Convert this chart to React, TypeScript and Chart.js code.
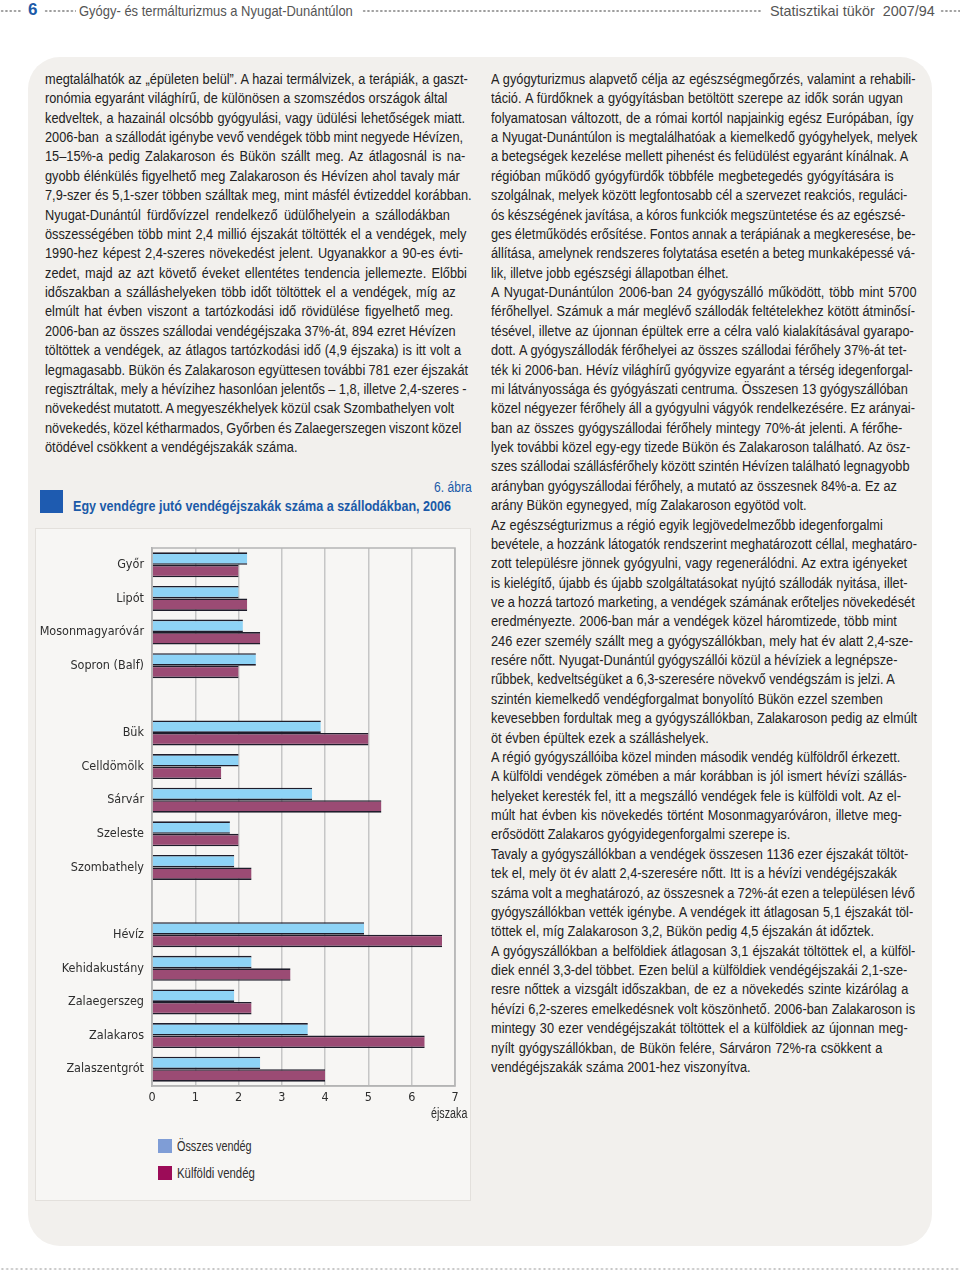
import React, { useEffect, useLayoutEffect, useRef } from 'react';
import { Chart, registerables } from 'chart.js';

Chart.register(...registerables);

// ---------- chart data ----------
const categories = [
  'Győr', 'Lipót', 'Mosonmagyaróvár', 'Sopron (Balf)', '',
  'Bük', 'Celldömölk', 'Sárvár', 'Szeleste', 'Szombathely', '',
  'Hévíz', 'Kehidakustány', 'Zalaegerszeg', 'Zalakaros', 'Zalaszentgrót',
];
const osszesVendeg = [2.2, 2.0, 2.1, 2.4, null, 3.9, 2.0, 3.7, 1.8, 1.9, null, 4.9, 2.3, 1.9, 3.6, 2.5];
const kulfoldiVendeg = [2.0, 2.2, 2.5, 2.0, null, 5.0, 1.6, 5.3, 2.0, 2.3, null, 6.7, 3.2, 2.3, 6.3, 4.0];
const seriesNames = ['Összes vendég', 'Külföldi vendég'];
const xMin = 0;
const xMax = 7;
const xUnit = 'éjszaka';

// ---------- page text ----------
const leftLines = [
  'megtalálhatók az „épületen belül”. A hazai termálvizek, a terápiák, a gaszt-',
  'ronómia egyaránt világhírű, de különösen a szomszédos országok által',
  'kedveltek, a hazainál olcsóbb gyógyulási, vagy üdülési lehetőségek miatt.',
  '2006-ban  a szállodát igénybe vevő vendégek több mint negyede Hévízen,',
  '15–15%-a pedig Zalakaroson és Bükön szállt meg. Az átlagosnál is na-',
  'gyobb élénkülés figyelhető meg Zalakaroson és Hévízen ahol tavaly már',
  '7,9-szer és 5,1-szer többen szálltak meg, mint másfél évtizeddel korábban.',
  'Nyugat-Dunántúl fürdővízzel rendelkező üdülőhelyein a szállodákban',
  'összességében több mint 2,4 millió éjszakát töltötték el a vendégek, mely',
  '1990-hez képest 2,4-szeres növekedést jelent. Ugyanakkor a 90-es évti-',
  'zedet, majd az azt követő éveket ellentétes tendencia jellemezte. Előbbi',
  'időszakban a szálláshelyeken több időt töltöttek el a vendégek, míg az',
  'elmúlt hat évben viszont a tartózkodási idő rövidülése figyelhető meg.',
  '2006-ban az összes szállodai vendégéjszaka 37%-át, 894 ezret Hévízen',
  'töltöttek a vendégek, az átlagos tartózkodási idő (4,9 éjszaka) is itt volt a',
  'legmagasabb. Bükön és Zalakaroson együttesen további 781 ezer éjszakát',
  'regisztráltak, mely a hévízihez hasonlóan jelentős – 1,8, illetve 2,4-szeres -',
  'növekedést mutatott. A megyeszékhelyek közül csak Szombathelyen volt',
  'növekedés, közel kétharmados, Győrben és Zalaegerszegen viszont közel',
  'ötödével csökkent a vendégéjszakák száma.',
];
// right edge of each line in the reference; negative = paragraph end (not justified)
const leftEnds = [468, 447, 465, 463, 465, 460, 472, 450, 466, 463, 467, 456, 453, 456, 461, 468, 467, 454, 461, -294];

const rightLines = [
  'A gyógyturizmus alapvető célja az egészségmegőrzés, valamint a rehabili-',
  'táció. A fürdőknek a gyógyításban betöltött szerepe az idők során ugyan',
  'folyamatosan változott, de a római kortól napjainkig egész Európában, így',
  'a Nyugat-Dunántúlon is megtalálhatóak a kiemelkedő gyógyhelyek, melyek',
  'a betegségek kezelése mellett pihenést és felüdülést egyaránt kínálnak. A',
  'régióban működő gyógyfürdők többféle megbetegedés gyógyítására is',
  'szolgálnak, melyek között legfontosabb cél a szervezet reakciós, reguláci-',
  'ós készségének javítása, a kóros funkciók megszüntetése és az egészsé-',
  'ges életműködés erősítése. Fontos annak a terápiának a megkeresése, be-',
  'állítása, amelynek rendszeres folytatása esetén a beteg munkaképessé vá-',
  'lik, illetve jobb egészségi állapotban élhet.',
  'A Nyugat-Dunántúlon 2006-ban 24 gyógyszálló működött, több mint 5700',
  'férőhellyel. Számuk a már meglévő szállodák feltételekhez kötött átminősí-',
  'tésével, illetve az újonnan épültek erre a célra való kialakításával gyarapo-',
  'dott. A gyógyszállodák férőhelyei az összes szállodai férőhely 37%-át tet-',
  'ték ki 2006-ban. Hévíz világhírű gyógyvize egyaránt a térség idegenforgal-',
  'mi látványossága és gyógyászati centruma. Összesen 13 gyógyszállóban',
  'közel négyezer férőhely áll a gyógyulni vágyók rendelkezésére. Ez arányai-',
  'ban az összes gyógyszállodai férőhely mintegy 70%-át jelenti. A férőhe-',
  'lyek további közel egy-egy tizede Bükön és Zalakaroson található. Az ösz-',
  'szes szállodai szállásférőhely között szintén Hévízen található legnagyobb',
  'arányban gyógyszállodai férőhely, a mutató az összesnek 84%-a. Ez az',
  'arány Bükön egynegyed, míg Zalakaroson egyötöd volt.',
  'Az egészségturizmus a régió egyik legjövedelmezőbb idegenforgalmi',
  'bevétele, a hozzánk látogatók rendszerint meghatározott céllal, meghatáro-',
  'zott településre jönnek gyógyulni, vagy regenerálódni. Az extra igényeket',
  'is kielégítő, újabb és újabb szolgáltatásokat nyújtó szállodák nyitása, illet-',
  've a hozzá tartozó marketing, a vendégek számának erőteljes növekedését',
  'eredményezte. 2006-ban már a vendégek közel háromtizede, több mint',
  '246 ezer személy szállt meg a gyógyszállókban, mely hat év alatt 2,4-sze-',
  'resére nőtt. Nyugat-Dunántúl gyógyszállói közül a hévíziek a legnépsze-',
  'rűbbek, kedveltségüket a 6,3-szeresére növekvő vendégszám is jelzi. A',
  'szintén kiemelkedő vendégforgalmat bonyolító Bükön ezzel szemben',
  'kevesebben fordultak meg a gyógyszállókban, Zalakaroson pedig az elmúlt',
  'öt évben épültek ezek a szálláshelyek.',
  'A régió gyógyszállóiba közel minden második vendég külföldről érkezett.',
  'A külföldi vendégek zömében a már korábban is jól ismert hévízi szállás-',
  'helyeket keresték fel, itt a megszálló vendégek fele is külföldi volt. Az el-',
  'múlt hat évben kis növekedés történt Mosonmagyaróváron, illetve meg-',
  'erősödött Zalakaros gyógyidegenforgalmi szerepe is.',
  'Tavaly a gyógyszállókban a vendégek összesen 1136 ezer éjszakát töltöt-',
  'tek el, mely öt év alatt 2,4-szeresére nőtt. Itt is a hévízi vendégéjszakák',
  'száma volt a meghatározó, az összesnek a 72%-át ezen a településen lévő',
  'gyógyszállókban vették igénybe. A vendégek itt átlagosan 5,1 éjszakát töl-',
  'töttek el, míg Zalakaroson 3,2, Bükön pedig 4,5 éjszakán át időztek.',
  'A gyógyszállókban a belföldiek átlagosan 3,1 éjszakát töltöttek el, a külföl-',
  'diek ennél 3,3-del többet. Ezen belül a külföldiek vendégéjszakái 2,1-sze-',
  'resre nőttek a vizsgált időszakban, de ez a növekedés szinte kizárólag a',
  'hévízi 6,2-szeres emelkedésnek volt köszönhető. 2006-ban Zalakaroson is',
  'mintegy 30 ezer vendégéjszakát töltöttek el a külföldiek az újonnan meg-',
  'nyílt gyógyszállókban, de Bükön felére, Sárváron 72%-ra csökkent a',
  'vendégéjszakák száma 2001-hez viszonyítva.',
];
const rightEnds = [
  915, 903, 913, 917, 908, 894, 907, 905, 916, 915, -730,
  917, 915, 914, 907, 913, 908, 915, 902, 910, 910, 897, -808,
  883, 917, 907, 907, 915, 897, 913, 897, 895, 883, 917, -705,
  -907, 907, 901, 902, -793,
  908, 897, 915, 913, -877,
  915, 907, 908, 915, 908, 882, -747,
];

const BODY_FONT = '"Liberation Sans", Arial, sans-serif';
const CHART_FONT = '"DejaVu Sans Condensed", "Liberation Sans", sans-serif';
const TEXT_COLOR = '#222';
const BLUE = '#1b5aa8';
const LINE_STEP = 19.37;
const TEXT_TOP = 70;
const LEFT_X = 45;
const RIGHT_X = 491;

type LineSpec = { text: string; left: number; top: number; end: number };

const allLines: LineSpec[] = [
  ...leftLines.map((t, i) => ({ text: t, left: LEFT_X, top: TEXT_TOP + i * LINE_STEP, end: leftEnds[i] })),
  ...rightLines.map((t, i) => ({ text: t, left: RIGHT_X, top: TEXT_TOP + i * LINE_STEP, end: rightEnds[i] })),
];

function BodyText() {
  const refs = useRef<(HTMLSpanElement | null)[]>([]);
  useLayoutEffect(() => {
    const fit = () => {
      const els = refs.current;
      els.forEach((el) => {
        if (el) {
          el.style.wordSpacing = '0px';
          el.style.transform = 'none';
        }
      });
      const widths = els.map((el) => (el ? el.offsetWidth : 0));
      // global horizontal condensing derived from the paragraph-final lines
      let sum = 0;
      let n = 0;
      allLines.forEach((l, i) => {
        if (l.end < 0 && widths[i] > 0) {
          sum += (-l.end - l.left) / widths[i];
          n++;
        }
      });
      const s = n ? sum / n : 0.84;
      els.forEach((el, i) => {
        if (!el) return;
        const l = allLines[i];
        el.style.transform = `scaleX(${s})`;
        if (l.end > 0) {
          const spaces = (l.text.match(/ /g) || []).length;
          if (spaces > 0) {
            const target = (l.end - l.left) / s;
            el.style.wordSpacing = (target - widths[i]) / spaces + 'px';
          }
        }
      });
    };
    fit();
    if ((document as any).fonts) (document as any).fonts.ready.then(fit);
  }, []);
  return (
    <>
      {allLines.map((l, i) => (
        <span
          key={i}
          ref={(el) => {
            refs.current[i] = el;
          }}
          style={{
            position: 'absolute',
            left: l.left,
            top: l.top,
            display: 'inline-block',
            whiteSpace: 'pre',
            transformOrigin: '0 0',
            fontFamily: BODY_FONT,
            fontSize: 14,
            lineHeight: LINE_STEP + 'px',
            color: TEXT_COLOR,
          }}
        >
          {l.text}
        </span>
      ))}
    </>
  );
}

function FitText({
  text, left, top, width, size, color = '#333', bold = false, lineHeight = 18,
}: { text: string; left: number; top: number; width: number; size: number; color?: string; bold?: boolean; lineHeight?: number }) {
  const ref = useRef<HTMLSpanElement | null>(null);
  useLayoutEffect(() => {
    const fit = () => {
      const el = ref.current;
      if (!el) return;
      el.style.transform = 'none';
      const w = el.offsetWidth;
      if (w > 0) el.style.transform = `scaleX(${width / w})`;
    };
    fit();
    if ((document as any).fonts) (document as any).fonts.ready.then(fit);
  }, []);
  return (
    <span
      ref={ref}
      style={{
        position: 'absolute',
        left,
        top,
        display: 'inline-block',
        whiteSpace: 'pre',
        transformOrigin: '0 0',
        fontFamily: BODY_FONT,
        fontSize: size,
        fontWeight: bold ? 'bold' : 'normal',
        color,
        lineHeight: lineHeight + 'px',
      }}
    >
      {text}
    </span>
  );
}

function Dots({ x, w, y, color = '#9a9a9a', step = 4.3 }: { x: number; w: number; y: number; color?: string; step?: number }) {
  return (
    <div
      style={{
        position: 'absolute',
        left: x,
        top: y - 2,
        width: w,
        height: 4,
        backgroundImage: `radial-gradient(circle at 50% 50%, ${color} 0.9px, transparent 1.3px)`,
        backgroundSize: `${step}px 4px`,
      }}
    />
  );
}

const boxPlugin = {
  id: 'plotBox',
  beforeDatasetsDraw(chart: any) {
    const { ctx, chartArea } = chart;
    ctx.save();
    ctx.strokeStyle = '#b5b5b5';
    ctx.lineWidth = 1.5;
    ctx.strokeRect(chartArea.left, chartArea.top, chartArea.right - chartArea.left, chartArea.bottom - chartArea.top);
    ctx.restore();
  },
};

function BarChart() {
  const ref = useRef<HTMLCanvasElement | null>(null);
  useEffect(() => {
    if (!ref.current) return;
    const barBorder = { top: 1.6, bottom: 1.6, left: 0, right: 0 };
    const chart = new Chart(ref.current, {
      type: 'bar',
      data: {
        labels: categories,
        datasets: [
          {
            label: seriesNames[0],
            data: osszesVendeg,
            backgroundColor: '#8ed3f6',
            borderColor: '#1f1d2b',
            borderWidth: barBorder,
            borderSkipped: false,
            categoryPercentage: 0.745,
            barPercentage: 1,
          },
          {
            label: seriesNames[1],
            data: kulfoldiVendeg,
            backgroundColor: '#9b4b74',
            borderColor: '#1f1d2b',
            borderWidth: barBorder,
            borderSkipped: false,
            categoryPercentage: 0.745,
            barPercentage: 1,
          },
        ],
      },
      options: {
        indexAxis: 'y',
        animation: false,
        responsive: false,
        maintainAspectRatio: false,
        layout: { padding: { top: 8, right: 15, left: 0, bottom: 0 } },
        plugins: { legend: { display: false }, tooltip: { enabled: false } },
        scales: {
          x: {
            min: xMin,
            max: xMax,
            ticks: { stepSize: 1, padding: 4, color: '#2e2e2e', font: { family: CHART_FONT, size: 12.5 } },
            grid: { color: '#c6c6c6', lineWidth: 1.5, drawTicks: false },
            border: { display: true, color: '#b5b5b5', width: 1.5 },
            afterFit: (s: any) => {
              s.height = 22;
              s.paddingLeft = 0;
              s.paddingRight = 0;
            },
          },
          y: {
            ticks: { padding: 8, color: '#2e2e2e', font: { family: CHART_FONT, size: 12.5 } },
            grid: { display: false, drawTicks: false },
            border: { display: true, color: '#a8a8a8', width: 1.5 },
            afterFit: (s: any) => {
              s.width = 117;
              s.paddingTop = 0;
              s.paddingBottom = 0;
            },
          },
        },
      } as any,
      plugins: [boxPlugin],
    });
    return () => chart.destroy();
  }, []);
  return <canvas ref={ref} width={435} height={568} style={{ position: 'absolute', left: 35, top: 540, width: 435, height: 568 }} />;
}

export default function App() {
  return (
    <div style={{ position: 'absolute', left: 0, top: 0, width: 960, height: 1274, background: '#fff', overflow: 'hidden', fontFamily: BODY_FONT }}>
      {/* header */}
      <Dots x={0} w={22} y={11} />
      <div style={{ position: 'absolute', left: 28, top: 0, fontSize: 17, fontWeight: 'bold', color: BLUE, lineHeight: '20px' }}>6</div>
      <Dots x={44} w={32} y={11} />
      <FitText text="Gyógy- és termálturizmus a Nyugat-Dunántúlon" left={79} top={2} width={274} size={15} color="#555" />
      <Dots x={362} w={400} y={11} />
      <FitText text={'Statisztikai tükör  2007/94'} left={770} top={2} width={165} size={15} color="#555" />
      <Dots x={940} w={20} y={11} />

      {/* rounded background */}
      <div style={{ position: 'absolute', left: 28, top: 57, width: 904, height: 1189, background: '#f2f0ed', borderRadius: 32 }} />

      <BodyText />

      {/* figure title */}
      <FitText text="6. ábra" left={434} top={478} width={38} size={14} color={BLUE} />
      <div style={{ position: 'absolute', left: 40, top: 490, width: 23, height: 23, background: '#1e5bb0' }} />
      <FitText text="Egy vendégre jutó vendégéjszakák száma a szállodákban, 2006" left={73} top={497} width={378} size={15} color={BLUE} bold />

      {/* chart panel */}
      <div style={{ position: 'absolute', left: 35, top: 528, width: 434, height: 671, background: '#f7f6f4', border: '1px solid #e3e0dc' }} />
      <BarChart />
      <FitText text={xUnit} left={431} top={1104} width={36} size={14} color="#2e2e2e" />

      {/* legend */}
      <div style={{ position: 'absolute', left: 158, top: 1139, width: 14, height: 14, background: '#7f9dd6' }} />
      <FitText text={seriesNames[0]} left={177} top={1137} width={75} size={14} color="#2e2e2e" />
      <div style={{ position: 'absolute', left: 158, top: 1166, width: 14, height: 14, background: '#9c0c58' }} />
      <FitText text={seriesNames[1]} left={177} top={1164} width={78} size={14} color="#2e2e2e" />

      {/* footer */}
      <Dots x={0} w={960} y={1269} color="#c4c4c4" step={4.8} />
    </div>
  );
}
